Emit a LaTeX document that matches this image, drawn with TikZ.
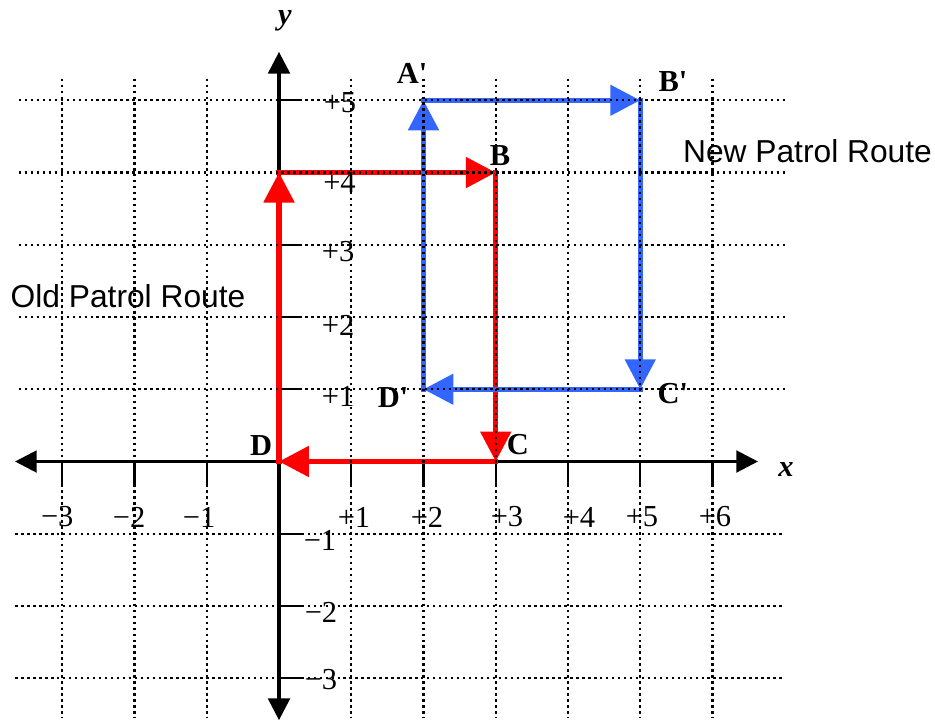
\documentclass[tikz,border=0pt]{standalone}
\usepackage{fontspec}
\setmainfont{Liberation Serif}
\newfontfamily\arialfont{Liberation Sans}
\usetikzlibrary{arrows.meta}
\definecolor{routered}{RGB}{255,0,0}
\definecolor{routeblue}{RGB}{51,102,255}
\newcommand{\sq}{\textquotesingle}
\begin{document}
\begin{tikzpicture}[x=1cm,y=1cm,
  gridline/.style={line width=0.95pt, dash pattern=on 0.95pt off 1.4pt},
  axisline/.style={line width=1.2pt, {Triangle[length=0.3cm,width=0.3cm]}-{Triangle[length=0.3cm,width=0.3cm]}},
  tickline/.style={line width=0.9pt},
  ticklab/.style={inner sep=0pt, font=\fontsize{12}{14}\selectfont},
  ptlab/.style={inner sep=0pt, font=\fontsize{12}{14}\selectfont\bfseries},
  axlab/.style={inner sep=0pt, font=\fontsize{12}{14}\selectfont\bfseries\itshape},
  oldroute/.style={routered, line width=2.1pt, line cap=rect, -{Triangle[length=0.415cm,width=0.415cm]}},
  newroute/.style={routeblue, line width=2pt, line cap=rect, -{Triangle[length=0.415cm,width=0.415cm]}},
  routelab/.style={inner sep=0pt, font=\arialfont\fontsize{12.5}{15}\selectfont}]
\useasboundingbox (-3.862,-3.592) rectangle (9.080,6.388);

% axes
\coordinate (xl) at (-3.654,0);
\coordinate (xr) at (6.63,0);
\coordinate (yt) at (0,5.67);
\coordinate (yb) at (0,-3.58);
\draw[axisline] (xl) -- (xr);
\draw[axisline] (yb) -- (yt);
\foreach \i in {-3,-2,-1,1,2,3,4,5,6}
  \draw[tickline] (\i,0) -- (\i,-0.32);
\foreach \j in {-3,-2,-1,1,2,3,4,5}
  \draw[tickline] (0,\j) -- (0.32,\j);

% old route
\coordinate (rD) at (0,0);
\coordinate (rA) at (0,4);
\coordinate (rB) at (3,4);
\coordinate (rC) at (3,0);
\draw[oldroute] (rD) -- (rA);
\draw[oldroute] (rA) -- (rB);
\draw[oldroute] (rB) -- (rC);
\draw[oldroute] (rC) -- (rD);

% new route
\coordinate (nA) at (2,5);
\coordinate (nB) at (5,5);
\coordinate (nC) at (5,1);
\coordinate (nD) at (2,1);
\draw[newroute] (nA) -- (nB);
\draw[newroute] (nB) -- (nC);
\draw[newroute] (nC) -- (nD);
\draw[newroute] (nD) -- (nA);

% tick labels
\node[ticklab] (lxm3) at (-3.07,-0.768) {−3};
\node[ticklab] (lxm2) at (-2.076,-0.768) {−2};
\node[ticklab] (lxm1) at (-1.107,-0.768) {−1};
\node[ticklab] (lxp1) at (1.038,-0.768) {+1};
\node[ticklab] (lxp2) at (2.048,-0.768) {+2};
\node[ticklab] (lxp3) at (3.156,-0.768) {+3};
\node[ticklab] (lxp4) at (4.152,-0.768) {+4};
\node[ticklab] (lxp5) at (5.024,-0.768) {+5};
\node[ticklab] (lxp6) at (6.035,-0.768) {+6};
\node[ticklab] (lyp5) at (0.844,4.962) {+5};
\node[ticklab] (lyp4) at (0.837,3.869) {+4};
\node[ticklab] (lyp3) at (0.817,2.90) {+3};
\node[ticklab] (lyp2) at (0.817,1.889) {+2};
\node[ticklab] (lyp1) at (0.817,0.907) {+1};
\node[ticklab] (lym1) at (0.567,-1.087) {−1};
\node[ticklab] (lym2) at (0.581,-2.083) {−2};
\node[ticklab] (lym3) at (0.581,-3.024) {−3};

% point labels
\node[ptlab] (labAp) at (1.841,5.377) {A\sq};
\node[ptlab] (labB) at (3.059,4.228) {B};
\node[ptlab] (labBp) at (5.453,5.253) {B\sq};
\node[ptlab] (labC) at (3.308,0.228) {C};
\node[ptlab] (labCp) at (5.453,0.934) {C\sq};
\node[ptlab] (labD) at (-0.249,0.215) {D};
\node[ptlab] (labDp) at (1.578,0.879) {D\sq};
\node[axlab, anchor=base] (laby) at (0.083,6.055) {y};
\node[axlab] (labx) at (7.017,-0.111) {x};

% route labels
\node[routelab] (oldlab) at (-2.09,2.291) {Old Patrol Route};
\node[routelab] (newlab) at (7.315,4.291) {New Patrol Route};

% grid (drawn on top)
\foreach \i in {-3,-2,-1,1,2,3,4,5,6}
  \draw[gridline] (\i,5.3) -- (\i,-3.55);
\foreach \j in {1,2,3,4,5}
  \draw[gridline] (-3.6,\j) -- (7.05,\j);
\foreach \j in {-1,-2,-3}
  \draw[gridline] (-3.65,\j) -- (6.96,\j);
\end{tikzpicture}
\end{document}
